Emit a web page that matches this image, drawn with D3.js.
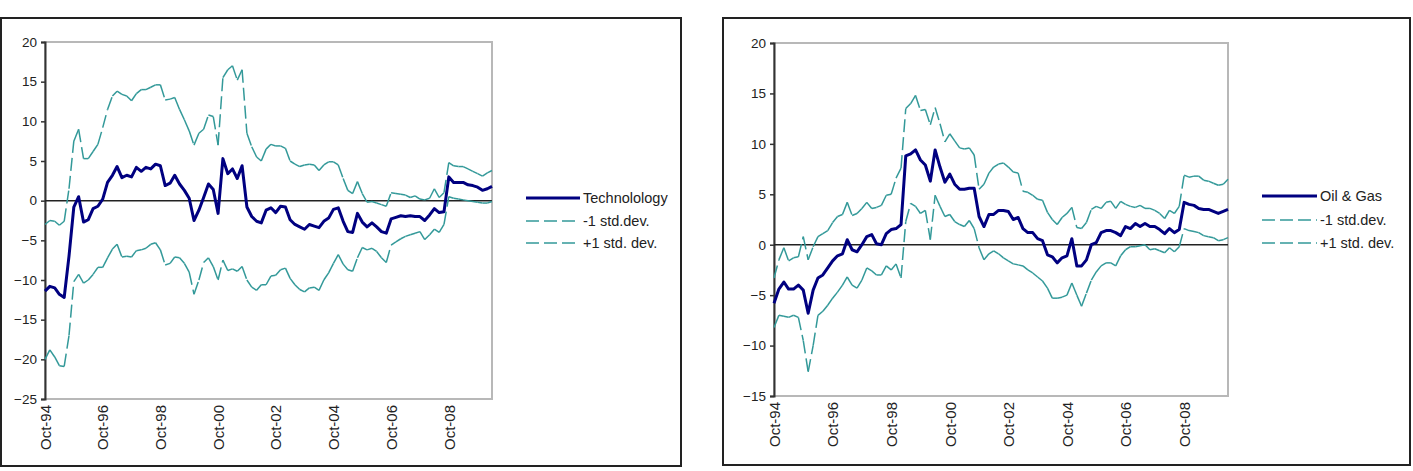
<!DOCTYPE html>
<html>
<head>
<meta charset="utf-8">
<script src="https://cdn.jsdelivr.net/npm/d3@7"></script>
<style>
    body { margin: 0; background: #fff; }
    svg text { font-family: "Liberation Sans", Arial, sans-serif; fill: #222; }
</style>
</head>
<body>
<svg id="chart" width="1413" height="471"></svg>
<script>
// observations every two months, Oct-94 .. Apr-10
var firstMonth = "Oct-94";
var lastMonth = "Apr-10";
var stepMonths = 2;
var xTickLabels = ["Oct-94", "Oct-96", "Oct-98", "Oct-00", "Oct-02", "Oct-04", "Oct-06", "Oct-08"];

var techTicks = [-25, -20, -15, -10, -5, 0, 5, 10, 15, 20];
var oilTicks = [-15, -10, -5, 0, 5, 10, 15, 20];

var techNames = ["Technolology", "-1 std.dev.", "+1 std. dev."];
var oilNames = ["Oil & Gas", "-1 std.dev.", "+1 std. dev."];

var techValues = [
    -11.4, -10.8, -11.0, -11.8, -12.2, -7.0, -0.8, 0.5, -2.7, -2.4,
    -1.0, -0.7, 0.2, 2.3, 3.2, 4.3, 2.9, 3.2, 3.0, 4.2,
    3.7, 4.2, 4.0, 4.6, 4.4, 1.9, 2.2, 3.2, 2.1, 1.3,
    0.3, -2.5, -1.2, 0.4, 2.1, 1.4, -1.6, 5.3, 3.4, 4.0,
    2.8, 4.4, -0.8, -2.0, -2.6, -2.8, -1.2, -0.9, -1.5, -0.7,
    -0.8, -2.4, -3.0, -3.3, -3.6, -3.0, -3.2, -3.4, -2.6, -2.2,
    -1.1, -0.9, -2.6, -3.9, -4.0, -1.6, -2.7, -3.3, -2.8, -3.3,
    -3.9, -4.1, -2.3, -2.1, -1.9, -2.0, -1.9, -2.0, -2.0, -2.5,
    -1.8, -1.0, -1.5, -1.4, 3.0, 2.3, 2.3, 2.3, 2.0, 1.9,
    1.7, 1.3, 1.5, 1.8
];
var techUpper = [
    -3.0, -2.5, -2.6, -3.1, -2.6, 1.5, 7.5, 9.0, 5.3, 5.3,
    6.2, 7.1, 9.2, 11.5, 13.2, 13.8, 13.4, 13.2, 12.6, 13.5,
    14.0, 14.0, 14.3, 14.6, 14.6, 12.7, 12.8, 13.0, 11.5, 10.2,
    8.8, 7.0, 8.5, 9.0, 10.8, 10.6, 7.0, 15.5, 16.5, 17.0,
    15.2, 16.5, 8.5, 6.8, 5.5, 5.0, 6.5, 7.1, 6.9, 6.9,
    6.6, 5.0, 4.6, 4.3, 4.5, 4.6, 4.5, 3.8, 4.5, 4.9,
    4.9, 4.5, 2.8, 1.3, 0.9, 2.4, 0.9, -0.2, -0.1, -0.3,
    -0.5, -0.7, 1.0, 0.9, 0.8, 0.7, 0.4, 0.6, 0.2, 0.1,
    0.3, 1.5, 0.4, 1.0, 4.8, 4.4, 4.3, 4.3, 4.0, 3.7,
    3.4, 3.1, 3.5, 3.8
];
var techLower = [
    -20.0, -18.8, -19.7, -20.8, -20.9, -17.0, -10.2, -9.3, -10.4, -10.0,
    -9.3, -8.4, -8.4, -7.2, -6.1, -5.5, -7.1, -7.0, -7.1, -6.3,
    -6.2, -6.0, -5.5, -5.3, -6.2, -8.1, -7.9, -7.1, -7.2, -7.9,
    -9.0, -11.8, -10.0, -7.8, -7.2, -8.3, -10.0, -7.5, -8.8, -8.6,
    -8.9, -8.3, -10.0, -10.9, -11.3, -10.6, -10.6, -9.5, -9.4, -8.7,
    -8.5, -9.8, -10.6, -11.2, -11.5, -11.0, -10.9, -11.3, -10.0, -9.1,
    -7.9, -6.8, -8.0, -8.7, -8.9, -7.2, -5.9, -6.2, -6.0, -6.4,
    -7.2, -7.8, -5.6, -5.2, -4.8, -4.5, -4.3, -4.1, -3.9, -4.9,
    -4.3, -3.6, -4.0, -3.0, 0.5, 0.3, 0.2, 0.1, 0.0, -0.1,
    -0.2, -0.3, -0.3, -0.1
];

var oilValues = [
    -5.8, -4.4, -3.7, -4.4, -4.4, -4.0, -4.5, -6.8, -4.5, -3.3,
    -3.0, -2.3, -1.6, -1.1, -0.9, 0.5, -0.5, -0.7, 0.0, 0.8,
    1.0, 0.1, 0.0, 1.1, 1.5, 1.6, 2.0, 8.8, 9.0, 9.4,
    8.4, 7.9, 6.3, 9.4, 7.7, 6.2, 7.0, 6.0, 5.5, 5.5,
    5.6, 5.6, 2.8, 1.8, 3.0, 3.0, 3.4, 3.4, 3.3, 2.5,
    2.7, 1.6, 1.2, 1.2, 0.6, 0.4, -1.0, -1.2, -1.8, -1.3,
    -1.1, 0.6, -2.1, -2.1, -1.5, 0.0, 0.2, 1.2, 1.4, 1.4,
    1.2, 0.9, 1.8, 1.6, 2.1, 1.8, 2.1, 1.8, 1.8, 1.5,
    1.1, 1.6, 1.2, 1.5, 4.2, 4.0, 3.9, 3.6, 3.5, 3.5,
    3.3, 3.1, 3.3, 3.5
];
var oilUpper = [
    -3.3, -1.5, -0.3, -1.6, -1.3, -1.2, 0.8, -1.5, -0.2, 0.8,
    1.1, 1.4, 2.2, 2.8, 3.0, 4.2, 2.9, 3.1, 3.6, 4.2,
    3.6, 3.7, 3.9, 4.9, 5.0, 6.6, 7.6, 13.5, 14.0, 14.8,
    13.3, 13.4, 11.9, 13.6, 12.0, 10.2, 11.0, 10.3, 9.6, 9.5,
    9.6, 8.9, 5.5, 6.0, 7.1, 7.7, 8.0, 8.1, 7.7, 7.2,
    7.1, 5.3, 5.2, 4.9, 4.5, 4.4, 3.2, 2.5, 2.0, 2.7,
    3.1, 3.7, 1.7, 1.6, 2.2, 3.5, 3.8, 3.6, 4.2, 4.3,
    3.6, 4.3, 4.0, 3.8, 3.7, 3.9, 3.6, 3.6, 3.4, 3.1,
    2.6, 3.4, 3.1, 3.8, 6.9, 6.7, 6.8, 6.8, 6.4, 6.3,
    6.1, 5.9, 6.0, 6.5
];
var oilLower = [
    -8.2, -7.0, -7.1, -7.2, -7.0, -7.2, -9.5, -12.6, -10.0, -7.0,
    -6.6, -6.0, -5.3, -4.7, -4.0, -3.2, -4.0, -4.3, -3.5, -2.3,
    -2.6, -3.0, -3.0, -2.1, -2.5, -1.9, -3.3, 2.3, 4.1, 3.8,
    3.1, 3.4, 0.5, 4.9, 3.8, 2.8, 3.0, 2.3, 2.0, 1.8,
    2.4, 1.6, -0.3, -1.5, -0.9, -0.6, -0.9, -1.3, -1.6, -1.9,
    -2.0, -2.1, -2.5, -2.8, -3.2, -3.6, -4.3, -5.3, -5.3, -5.2,
    -5.0, -3.8, -5.0, -6.1, -4.8, -3.5, -2.7, -2.1, -1.8, -1.8,
    -2.1, -1.1, -0.5, -0.2, -0.2, -0.1, 0.0, -0.5, -0.4, -0.6,
    -0.8, -0.3, -0.7, -0.2, 1.6, 1.4, 1.3, 1.2, 0.9, 0.8,
    0.7, 0.4, 0.5, 0.7
];

var navy = "#000080";
var teal = "#339999";
var parseMonth = d3.timeParse("%b-%y");

var svg = d3.select("#chart");

var dates = techValues.map(function (d, i) {
    return d3.timeMonth.offset(parseMonth(firstMonth), i * stepMonths);
});

var drawPanel = function (p) {
    var g = svg.append("g");

    //--outer chart frame
    g.append("rect")
        .attr("x", p.box[0]).attr("y", p.box[1])
        .attr("width", p.box[2]).attr("height", p.box[3])
        .attr("fill", "#fff").attr("stroke", "#222").attr("stroke-width", 2);

    var x = d3.scaleTime()
        .domain([parseMonth(firstMonth), parseMonth(lastMonth)])
        .range([p.left, p.right]);
    var y = d3.scaleLinear()
        .domain([p.ticks[0], p.ticks[p.ticks.length - 1]])
        .range([p.bottom, p.top]);

    //--plot area border
    g.append("rect")
        .attr("x", p.left).attr("y", p.top)
        .attr("width", p.right - p.left).attr("height", p.bottom - p.top)
        .attr("fill", "none").attr("stroke", "#b8b8b8").attr("stroke-width", 2);

    //--value axis
    var yAxis = g.append("g")
        .attr("transform", "translate(" + p.left + ",0)")
        .call(d3.axisLeft(y).tickValues(p.ticks).tickSize(4).tickPadding(4).tickFormat(d3.format("d")));
    yAxis.select(".domain").attr("stroke", "#333").attr("stroke-width", 2);
    yAxis.selectAll(".tick line").attr("stroke", "#333").attr("stroke-width", 1.5);
    yAxis.selectAll("text").style("font-size", "13.5px");

    //--date labels, written low
    var xAxis = g.append("g")
        .attr("transform", "translate(0," + p.bottom + ")")
        .call(d3.axisBottom(x)
            .tickValues(xTickLabels.map(parseMonth))
            .tickSize(0)
            .tickFormat(function (d, i) { return xTickLabels[i]; }));
    xAxis.select(".domain").remove();
    xAxis.selectAll("text")
        .attr("transform", "rotate(-90)")
        .attr("text-anchor", "end")
        .attr("x", -6).attr("y", 0).attr("dy", "0.35em")
        .style("font-size", "15px");

    //--category axis crossing at zero
    g.append("line")
        .attr("x1", p.left).attr("x2", p.right)
        .attr("y1", y(0)).attr("y2", y(0))
        .attr("stroke", "#222").attr("stroke-width", 1.5);

    var line = d3.line()
        .x(function (d, i) { return x(dates[i]); })
        .y(function (d) { return y(d); });

    g.append("path")
        .datum(p.values)
        .attr("d", line)
        .attr("fill", "none").attr("stroke", navy)
        .attr("stroke-width", 3).attr("stroke-linejoin", "round");

    //--dash pattern restarts on every segment, like the original
    [p.upper, p.lower].forEach(function (band) {
        var segs = d3.pairs(band.map(function (v, i) { return [dates[i], v]; }));
        g.append("g").selectAll("path")
            .data(segs)
            .join("path")
            .attr("d", d3.line().x(function (d) { return x(d[0]); }).y(function (d) { return y(d[1]); }))
            .attr("fill", "none").attr("stroke", teal)
            .attr("stroke-width", 1.5).attr("stroke-dasharray", "13,5");
    });

    //--legend
    var leg = g.append("g").selectAll("g")
        .data(p.names)
        .join("g")
        .attr("transform", function (d, i) { return "translate(" + p.legend[0] + "," + p.legend[i + 1] + ")"; });
    leg.append("line")
        .attr("x1", 0).attr("x2", p.legendLen)
        .attr("stroke", function (d, i) { return i === 0 ? navy : teal; })
        .attr("stroke-width", function (d, i) { return i === 0 ? 3 : 1.5; })
        .attr("stroke-dasharray", function (d, i) { return i === 0 ? null : "13,5"; });
    leg.append("text")
        .attr("x", p.legendLen + 3).attr("dy", "0.35em")
        .style("font-size", "14.5px")
        .text(function (d) { return d; });
};

drawPanel({
    box: [1, 18, 680, 448],
    left: 45, right: 492, top: 42, bottom: 399,
    ticks: techTicks,
    values: techValues, upper: techUpper, lower: techLower,
    names: techNames,
    legend: [526, 198, 221, 243], legendLen: 54
});

drawPanel({
    box: [723, 18, 687, 447],
    left: 774, right: 1228, top: 43, bottom: 396,
    ticks: oilTicks,
    values: oilValues, upper: oilUpper, lower: oilLower,
    names: oilNames,
    legend: [1262, 196, 220, 243], legendLen: 55
});
</script>
</body>
</html>
